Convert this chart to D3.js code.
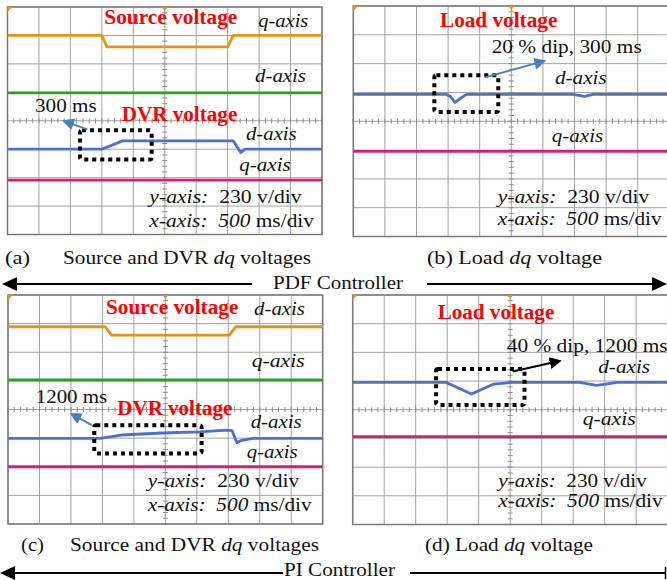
<!DOCTYPE html>
<html>
<head>
<meta charset="utf-8">
<title>Source, DVR and load dq voltages</title>
<style>
body { margin: 0; background: #fff; }
svg { display: block; font-family: "Liberation Serif", "Times New Roman", serif; }
.grid line { stroke: #a2a2a2; stroke-width: 1; }
.minor line { stroke: #8a8a8a; stroke-width: 1; }
.frame { fill: none; stroke: #7a7a7a; stroke-width: 1.5; }
.trace { fill: none; stroke-width: 2.8; stroke-linejoin: round; }
.box { fill: none; stroke: #000; stroke-width: 4; stroke-dasharray: 4 4; }
.lbl { font-size: 19px; white-space: pre; fill: #111; }
.red { font-size: 20px; font-weight: bold; fill: #ff0000; }
</style>
</head>
<body>
<script src="https://d3js.org/d3.v7.min.js"></script>
<script>

// Scope settings: 500 ms/div, 230 V/div, 10 x 8 divisions, 0 V on the centre line
var timeRange = [0, 5000];
var voltRange = [-920, 920];
var msPerDiv = 500, voltPerDiv = 230;

// (a) PDF - source and DVR dq voltages (time ms / volts)
var a_srcQ_t = [0, 1500, 1580, 3500, 3590, 5000];
var a_srcQ_v = [690, 690, 598, 598, 690, 690];
var a_srcD_t = [0, 5000];
var a_srcD_v = [225, 225];
var a_dvrD_t = [0, 1500, 1830, 3590, 3707, 3776, 5000];
var a_dvrD_v = [-230, -230, -163, -163, -257, -230, -230];
var a_dvrQ_t = [0, 5000];
var a_dvrQ_v = [-480, -480];

// (b) PDF - load dq voltage
var b_loadD_t = [0, 1467, 1540, 1609, 1700, 1760, 1800, 3476, 3660, 3792, 5000];
var b_loadD_v = [215, 215, 195, 150, 185, 205, 215, 215, 198, 215, 215];
var b_loadQ_t = [0, 5000];
var b_loadQ_v = [-240, -240];

// (c) PI - source and DVR dq voltages
var c_srcD_t = [0, 1541, 1647, 3516, 3622, 5000];
var c_srcD_v = [665, 665, 598, 598, 665, 665];
var c_srcQ_t = [0, 5000];
var c_srcQ_v = [237, 237];
var c_dvrD_t = [0, 1462, 1800, 2362, 2700, 3050, 3474, 3560, 3636, 3700, 3893, 5000];
var c_dvrD_v = [-232, -232, -205, -191, -185, -179, -166, -170, -267, -250, -232, -232];
var c_dvrQ_t = [0, 5000];
var c_dvrQ_v = [-460, -460];

// (d) PI - load dq voltage
var d_loadD_t = [0, 1476, 1886, 2230, 2540, 3600, 3870, 4200, 5000];
var d_loadD_v = [220, 220, 127, 205, 220, 220, 195, 220, 220];
var d_loadQ_t = [0, 5000];
var d_loadQ_v = [-216, -216];

// dotted highlight boxes [t0, t1, v0, v1] and arrows [t0, v0, t1, v1]
var a_box = [1153, 2292, -76, -313],  a_arrow = [1269, -70, 903, -3];
var b_box = [1282, 2294, 368, 74],    b_arrow = [2083, 350, 3017, 480];
var c_box = [1371, 3076, -126, -354], c_arrow = [1330, -125, 1012, -37];
var d_box = [1323, 2727, 327, 39],    d_arrow = [2540, 306, 3280, 391];

var colors = { orange: "#e8920f", green: "#2f9f27", blue: "#4a6fd6", magenta: "#d81c78",
               arrowBlue: "#4a80c0" };

var svg = d3.select("body").append("svg")
    .attr("width", 667)
    .attr("height", 580);

var defs = svg.append("defs");
function marker(id, col) {
  defs.append("marker")
      .attr("id", id)
      .attr("viewBox", "0 0 10 10")
      .attr("refX", 8).attr("refY", 5)
      .attr("markerWidth", 6).attr("markerHeight", 6)
      .attr("orient", "auto")
    .append("path")
      .attr("d", "M0,0 L10,5 L0,10 z")
      .attr("fill", col);
}
marker("headBlue", colors.arrowBlue);
marker("headBlack", "#000");

function pairs(ts, vs) { return ts.map(function(t, i) { return [t, vs[i]]; }); }

function drawPanel(id, p, traces, box, arrow, arrowCol) {
  var x = d3.scaleLinear().domain(timeRange).range([p.x, p.x + p.w]);
  var y = d3.scaleLinear().domain(voltRange).range([p.y + p.h, p.y]);

  defs.append("clipPath").attr("id", "clip" + id)
    .append("rect").attr("x", p.x).attr("y", p.y).attr("width", p.w).attr("height", p.h);

  var g = svg.append("g");

  // grid
  var grid = g.append("g").attr("class", "grid");
  grid.selectAll(".gx").data(d3.range(timeRange[0], timeRange[1] + 1, msPerDiv))
    .enter().append("line")
      .attr("x1", function(d) { return x(d); }).attr("x2", function(d) { return x(d); })
      .attr("y1", p.y).attr("y2", p.y + p.h);
  grid.selectAll(".gy").data(d3.range(voltRange[0], voltRange[1] + 1, voltPerDiv))
    .enter().append("line")
      .attr("y1", function(d) { return y(d); }).attr("y2", function(d) { return y(d); })
      .attr("x1", p.x).attr("x2", p.x + p.w);

  // minor ticks on the centre lines
  var minor = g.append("g").attr("class", "minor");
  minor.selectAll(".mx").data(d3.range(timeRange[0], timeRange[1] + 1, msPerDiv / 5))
    .enter().append("line")
      .attr("x1", function(d) { return x(d); }).attr("x2", function(d) { return x(d); })
      .attr("y1", y(0) - 2.5).attr("y2", y(0) + 2.5);
  minor.selectAll(".my").data(d3.range(voltRange[0], voltRange[1] + 1, voltPerDiv / 5))
    .enter().append("line")
      .attr("y1", function(d) { return y(d); }).attr("y2", function(d) { return y(d); })
      .attr("x1", x(2500) - 2.5).attr("x2", x(2500) + 2.5);

  g.append("rect").attr("class", "frame")
    .attr("x", p.x).attr("y", p.y).attr("width", p.w).attr("height", p.h);

  // scope markers
  g.append("path").attr("fill", colors.orange)
    .attr("d", "M" + (x(2500) - 3) + "," + p.y + " l6,0 l-3,4 z");
  g.append("path").attr("fill", colors.orange)
    .attr("d", "M" + p.x + "," + p.y + " l5,0 l-5,5 z");

  var line = d3.line().x(function(d) { return x(d[0]); }).y(function(d) { return y(d[1]); });
  var tg = g.append("g").attr("clip-path", "url(#clip" + id + ")");
  traces.forEach(function(tr) {
    tg.append("path").attr("class", "trace")
      .attr("stroke", tr.col)
      .attr("d", line(pairs(tr.t, tr.v)));
  });

  g.append("rect").attr("class", "box")
    .attr("x", x(box[0])).attr("y", y(box[2]))
    .attr("width", x(box[1]) - x(box[0])).attr("height", y(box[3]) - y(box[2]))
    .attr("rx", 2);

  g.append("line")
    .attr("x1", x(arrow[0])).attr("y1", y(arrow[1]))
    .attr("x2", x(arrow[2])).attr("y2", y(arrow[3]))
    .attr("stroke", arrowCol).attr("stroke-width", 2)
    .attr("marker-end", arrowCol === "#000" ? "url(#headBlack)" : "url(#headBlue)");
}

drawPanel("a", {x: 7.5, y: 7, w: 314.5, h: 227.5}, [
  {t: a_srcQ_t, v: a_srcQ_v, col: colors.orange},
  {t: a_srcD_t, v: a_srcD_v, col: colors.green},
  {t: a_dvrD_t, v: a_dvrD_v, col: colors.blue},
  {t: a_dvrQ_t, v: a_dvrQ_v, col: colors.magenta}
], a_box, a_arrow, colors.arrowBlue);

drawPanel("b", {x: 353.3, y: 6, w: 316, h: 230.5}, [
  {t: b_loadD_t, v: b_loadD_v, col: colors.blue},
  {t: b_loadQ_t, v: b_loadQ_v, col: colors.magenta}
], b_box, b_arrow, colors.arrowBlue);

drawPanel("c", {x: 8, y: 295, w: 314.7, h: 229}, [
  {t: c_srcD_t, v: c_srcD_v, col: colors.orange},
  {t: c_srcQ_t, v: c_srcQ_v, col: colors.green},
  {t: c_dvrD_t, v: c_dvrD_v, col: colors.blue},
  {t: c_dvrQ_t, v: c_dvrQ_v, col: colors.magenta}
], c_box, c_arrow, colors.arrowBlue);

drawPanel("d", {x: 352.7, y: 295, w: 315, h: 229.5}, [
  {t: d_loadD_t, v: d_loadD_v, col: colors.blue},
  {t: d_loadQ_t, v: d_loadQ_v, col: colors.magenta}
], d_box, d_arrow, "#000");

// text: parts are [string, italic?]
function label(parts, px, py, w, cls) {
  var t = svg.append("text").attr("class", cls || "lbl").attr("x", px).attr("y", py);
  parts.forEach(function(pt) {
    t.append("tspan").text(pt[0]).style("font-style", pt[1] ? "italic" : null);
  });
  if (w) t.attr("textLength", w).attr("lengthAdjust", "spacingAndGlyphs");
  return t;
}
var yAxisTxt = [["y-axis:", true], ["  230 v/div", false]];
var xAxisTxt = [["x-axis:", true], ["  ", false], ["500", true], [" ms/div", false]];

// (a)
label([["Source voltage", false]], 104.3, 24, 133, "red");
label([["q-axis", true]], 258.3, 26.7, 50);
label([["d-axis", true]], 255, 81.7, 51);
label([["300 ms", false]], 35, 111.7, 61.7);
label([["DVR voltage", false]], 121.7, 120.7, 115.6, "red");
label([["d-axis", true]], 246, 140, 50.7);
label([["q-axis", true]], 239.3, 171, 51.4);
label(yAxisTxt, 149.3, 202.7, 152.4);
label(xAxisTxt, 149.3, 226.7, 164.7);

// (b)
label([["Load voltage", false]], 440, 26.7, 117.3, "red");
label([["20 % dip, 300 ms", false]], 491.7, 52.7, 150);
label([["d-axis", true]], 555, 84.3, 51.7);
label([["q-axis", true]], 551.7, 141.7, 51.6);
label(yAxisTxt, 497.7, 202.7, 151.6);
label(xAxisTxt, 497.7, 225, 164);

// (c)
label([["Source voltage", false]], 106, 314, 132.3, "red");
label([["d-axis", true]], 254, 315, 51);
label([["q-axis", true]], 251.7, 367, 53);
label([["1200 ms", false]], 35.7, 403.3, 71.6);
label([["DVR voltage", false]], 117.3, 415, 115, "red");
label([["d-axis", true]], 250.7, 428.3, 51);
label([["q-axis", true]], 246.7, 458.3, 51);
label(yAxisTxt, 147.7, 486.7, 151.6);
label(xAxisTxt, 147.7, 510.7, 164);

// (d)
label([["Load voltage", false]], 437.7, 319.3, 116.6, "red");
label([["40 % dip, 1200 ms", false]], 506.7, 351.7, 161);
label([["d-axis", true]], 598.3, 372.7, 51.7);
label([["q-axis", true]], 582.7, 425, 53);
label(yAxisTxt, 498.3, 486.7, 148.4);
label(xAxisTxt, 498.3, 507.3, 164.4);

// captions
label([["(a)", false]], 5, 264, 25);
label([["Source and DVR ", false], ["dq", true], [" voltages", false]], 63, 264, 248);
label([["(b) Load ", false], ["dq", true], [" voltage", false]], 427, 264, 175);
label([["PDF Controller", false]], 273, 289, 130);
label([["(c)", false]], 21, 551, 23);
label([["Source and DVR ", false], ["dq", true], [" voltages", false]], 70, 551, 249);
label([["(d) Load ", false], ["dq", true], [" voltage", false]], 425, 551, 168);
label([["PI Controller", false]], 284, 576, 111);

// controller span arrows
function spanLine(x1, x2, yy) {
  svg.append("line").attr("x1", x1).attr("x2", x2).attr("y1", yy).attr("y2", yy)
    .attr("stroke", "#000").attr("stroke-width", 2);
}
function head(xTip, yy, dir) {
  svg.append("path").attr("fill", "#000")
    .attr("d", "M" + xTip + "," + yy + " l" + (15 * dir) + ",-7 l0,14 z");
}
spanLine(10, 252, 284); head(2, 284, 1);
spanLine(427, 658, 284); head(667, 284, -1);
spanLine(10, 283, 573); head(0, 573, 1);
spanLine(410, 666, 573);
svg.append("line").attr("x1", 665.5).attr("x2", 665.5).attr("y1", 567).attr("y2", 579)
  .attr("stroke", "#000").attr("stroke-width", 1.5);

</script>
</body>
</html>
